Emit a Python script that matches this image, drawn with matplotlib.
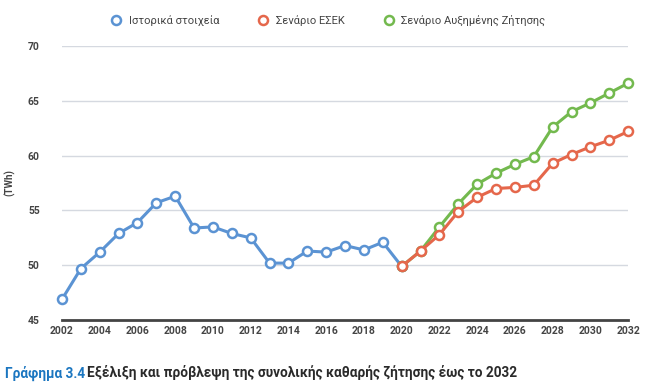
import numpy as np
import matplotlib
matplotlib.use("Agg")
from matplotlib import pyplot as plt

years_hist = list(range(2002, 2021))
hist = [46.9, 49.7, 51.2, 52.9, 53.9, 55.7, 56.3, 53.4, 53.5, 52.9, 52.5,
        50.2, 50.2, 51.3, 51.2, 51.8, 51.4, 52.1, 49.9]
years_proj = list(range(2020, 2033))
esek = [49.9, 51.3, 52.8, 54.9, 56.2, 57.0, 57.1, 57.3, 59.3, 60.1, 60.8, 61.4, 62.2]
high = [49.9, 51.3, 53.5, 55.6, 57.4, 58.4, 59.2, 59.9, 62.6, 64.0, 64.8, 65.7, 66.6]
labels = ["Ιστορικά στοιχεία", "Σενάριο ΕΣΕΚ", "Σενάριο Αυξημένης Ζήτησης"]

plt.rcParams['font.family'] = ['Roboto', 'DejaVu Sans']

fig = plt.figure(figsize=(6.56, 3.89), dpi=100)
ax = fig.add_axes([0.0945, 0.177, 0.863, 0.705])

mk = dict(marker='o', markersize=6.5, markerfacecolor='white', markeredgewidth=1.8, lw=2.2)
l1, = ax.plot(years_hist, hist, color='#5b93d3', label=labels[0], **mk)
l3, = ax.plot(years_proj, high, color='#73b94e', label=labels[2], **mk)
l2, = ax.plot(years_proj, esek, color='#e5674b', label=labels[1], **mk)
for l in (l1, l2, l3):
    l.set_clip_on(False)

ax.set_xlim(2002, 2032)
ax.set_ylim(45, 70)
ax.set_xticks(range(2002, 2033, 2))
ax.set_yticks(range(45, 71, 5))
ax.grid(axis='y', color='#d5d9e0', lw=1)
ax.set_axisbelow(True)
for s in ('top', 'right', 'left'):
    ax.spines[s].set_visible(False)
ax.spines['bottom'].set_color('#444444')
ax.spines['bottom'].set_linewidth(2)
ax.tick_params(length=0, labelsize=7.5, colors='#444444', pad=4)
ax.tick_params(axis='y', pad=16)
for t in ax.get_xticklabels() + ax.get_yticklabels():
    t.set_fontweight('bold')
ax.set_ylabel('(TWh)', fontsize=7, fontweight='bold', color='#444444')
ax.yaxis.set_label_coords(-0.082, 0.5)

fig.legend(handles=[l1, l2, l3], labels=labels, loc='center', bbox_to_anchor=(0.5, 0.948),
           ncol=3, frameon=False, fontsize=8, handlelength=1.0, columnspacing=3.5,
           handletextpad=0.6, labelcolor='#444444')
for h in fig.legends[0].legend_handles:
    h.set_linestyle('none')

t1 = fig.text(0.008, 0.03, "Γράφημα 3.4", color='#1b76c0', fontsize=9.8, fontweight='bold')
fig.canvas.draw()
bb = t1.get_window_extent()
fig.text(bb.x1 / fig.bbox.width + 0.003, 0.03,
         "Εξέλιξη και πρόβλεψη της συνολικής καθαρής ζήτησης έως το 2032",
         color='#2a2a2a', fontsize=9.8, fontweight='bold')

fig.savefig('out.png', dpi=100)
